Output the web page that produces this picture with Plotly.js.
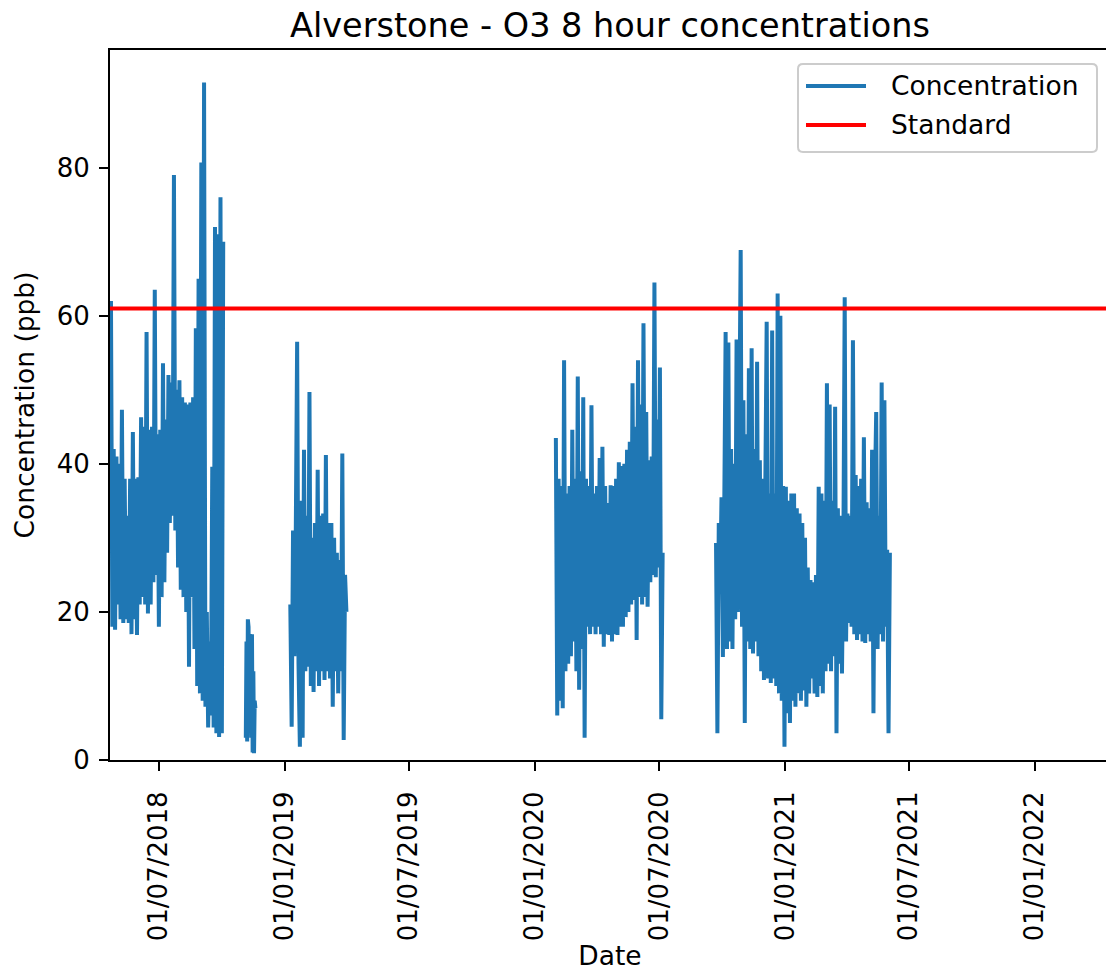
<!DOCTYPE html>
<html>
<head>
<meta charset="utf-8">
<script src="https://cdn.plot.ly/plotly-3.0.1.min.js"></script>
<style>
  html, body { margin: 0; padding: 0; background: #ffffff; overflow: hidden; }
  #chart { width: 1114px; height: 972px; }
</style>
</head>
<body>
<div id="chart"></div>
<script>
// ---- Chart text ----
const chartTitle = 'Alverstone - O3 8 hour concentrations';
const xTitle = 'Date';
const yTitle = 'Concentration (ppb)';
const seriesName = 'Concentration';
const standardName = 'Standard';

// ---- Air quality standard (ppb) ----
const standardValue = 61;

// ---- Measured 8-hour mean O3 (ppb), one block per monitoring period ----
// Each block: first reading (UTC), hours between readings, readings.
const period1Start = '2018-04-22T00:00:00Z';
const period1StepHours = 48;
const period1Values = [
  62, 18, 42, 17.6, 41, 21, 40, 19, 47.3, 18.5,
  38, 19, 33, 18.5, 38, 17, 44.3, 19, 38, 16.9,
  38.2, 21, 46.3, 22, 45, 21, 57.8, 19.8, 44.6, 21,
  45, 24, 63.5, 25, 44, 18, 44.6, 22, 53.6, 24,
  46, 28, 52, 32, 51, 33, 79, 31, 50, 26,
  51.3, 23, 49, 22, 48.3, 20, 48, 12.6, 48.3, 22,
  49, 15, 58.3, 10, 65, 9, 80.7, 8, 91.5, 7.2,
  20, 4.4, 16, 6, 39.6, 4.4, 72, 3.6, 71, 3.1,
  76, 3.6, 70
];

const period2Start = '2018-11-05T00:00:00Z';
const period2StepHours = 24;
const period2Values = [
  3, 16, 2.5, 19, 18, 4, 17, 16, 3, 17,
  1, 12, 0.9, 8, 7
];

const period3Start = '2019-01-09T00:00:00Z';
const period3StepHours = 48;
const period3Values = [
  21, 4.5, 31, 14, 30.6, 56.5, 13, 1.8, 35, 3,
  41.9, 12, 33, 12.6, 49.7, 10, 30, 9.2, 32, 12,
  39.2, 10, 33, 12, 33.3, 10.8, 41.2, 12, 32, 11,
  32, 7.2, 30, 12, 28, 9, 27, 12, 41.4, 2.7,
  25, 20
];

const period4Start = '2020-02-01T00:00:00Z';
const period4StepHours = 48;
const period4Values = [
  43.5, 6, 38, 8, 37, 7, 54, 12, 36, 13,
  37, 14, 44.6, 16, 38, 12, 51.8, 9.5, 39, 15,
  49, 3, 38, 18, 37, 17, 47.9, 18, 36, 17,
  37, 18, 40.8, 17, 42.3, 15.3, 37, 17, 34.7, 16.9,
  37.1, 16, 37, 17, 38, 16.9, 40.2, 18, 39.7, 18,
  40, 19.3, 41.9, 20, 43, 21, 50.9, 21.6, 45, 16.2,
  54, 22, 48, 21, 59, 22, 47, 20.7, 40.5, 24,
  41, 25, 64.5, 24.7, 46, 26, 53, 5.5, 28
];

const period5Start = '2020-09-22T00:00:00Z';
const period5StepHours = 48;
const period5Values = [
  29.3, 3.6, 32, 23, 35.5, 13.9, 34, 57.8, 15, 56.4,
  16, 42, 15, 40, 19, 56.8, 20, 45, 68.9, 18,
  48.6, 5, 44, 16, 52.9, 15, 55.6, 14.4, 42, 16,
  53.8, 14, 40.5, 12, 38, 10.8, 37, 59.2, 11, 36,
  10.4, 58, 11, 36, 10, 63, 9, 60, 8, 37,
  1.8, 36.9, 6.3, 35, 5, 36, 8, 36, 7.2, 34,
  9, 33.3, 8, 32, 9.4, 30, 7.2, 26, 9, 24.3,
  11, 24, 9, 25, 8.5, 36.9, 10, 36, 9, 35,
  12, 50.9, 13, 48, 12, 35, 14, 47.7, 3.6, 34,
  13, 33, 11.7, 28, 62.5, 16, 33.3, 18.5, 33, 18,
  56.7, 17, 38.5, 16.2, 37, 17, 38, 16, 43.6, 15.8,
  34.8, 17, 34, 16, 41.9, 6.3, 36, 47, 15, 33,
  17, 51, 16, 48.6, 18, 28.4, 3.6, 28
];

// ---- Axis ticks ----
const xTickDates = ['2018-07-01', '2019-01-01', '2019-07-01', '2020-01-01',
                    '2020-07-01', '2021-01-01', '2021-07-01', '2022-01-01'];
const xTickLabels = ['01/07/2018', '01/01/2019', '01/07/2019', '01/01/2020',
                     '01/07/2020', '01/01/2021', '01/07/2021', '01/01/2022'];
const yTickValues = [0, 20, 40, 60, 80];
const yTickLabels = ['0', '20', '40', '60', '80'];

// ---- Build the time series; gaps between periods stay empty ----
function fmt(ms) {
  return new Date(ms).toISOString().slice(0, 16).replace('T', ' ');
}
const periods = [
  [period1Start, period1StepHours, period1Values],
  [period2Start, period2StepHours, period2Values],
  [period3Start, period3StepHours, period3Values],
  [period4Start, period4StepHours, period4Values],
  [period5Start, period5StepHours, period5Values]
];
const xs = [], ys = [];
periods.forEach(([start, step, vals], k) => {
  const t0 = Date.parse(start);
  vals.forEach((v, i) => { xs.push(fmt(t0 + i * step * 3600e3)); ys.push(v); });
  if (k < periods.length - 1) {
    // break the line until the next period starts
    xs.push(fmt(t0 + vals.length * step * 3600e3));
    ys.push(null);
  }
});

const blue = '#1f77b4';
const red = '#ff0000';
const font = 'DejaVu Sans, Liberation Sans, sans-serif';

const traces = [{
  type: 'scatter',
  mode: 'lines',
  name: seriesName,
  x: xs,
  y: ys,
  connectgaps: false,
  line: { color: blue, width: 4, simplify: false },
  hoverinfo: 'x+y'
}];

// ---- Legend (drawn in paper coordinates, top-right inside the axes) ----
const lg = { x0: 0.688, x1: 0.987, y0: 0.8563, y1: 0.9803 };
const rx = 0.005, ry = 0.007;
const framePath =
  `M ${lg.x0 + rx},${lg.y0} L ${lg.x1 - rx},${lg.y0} Q ${lg.x1},${lg.y0} ${lg.x1},${lg.y0 + ry} ` +
  `L ${lg.x1},${lg.y1 - ry} Q ${lg.x1},${lg.y1} ${lg.x1 - rx},${lg.y1} ` +
  `L ${lg.x0 + rx},${lg.y1} Q ${lg.x0},${lg.y1} ${lg.x0},${lg.y1 - ry} ` +
  `L ${lg.x0},${lg.y0 + ry} Q ${lg.x0},${lg.y0} ${lg.x0 + rx},${lg.y0} Z`;
const legendEntries = [
  { label: seriesName, color: blue, y: 0.9493 },
  { label: standardName, color: red, y: 0.8944 }
];

const shapes = [
  // the standard, across the full width of the axes
  { type: 'line', xref: 'paper', yref: 'y', x0: 0, x1: 1,
    y0: standardValue, y1: standardValue,
    line: { color: red, width: 4 }, layer: 'above' },
  { type: 'path', xref: 'paper', yref: 'paper', path: framePath,
    fillcolor: 'rgba(255,255,255,0.8)', line: { color: '#cccccc', width: 2 }, layer: 'above' }
];
const annotations = [];
legendEntries.forEach(e => {
  shapes.push({ type: 'line', xref: 'paper', yref: 'paper',
    x0: 0.696, x1: 0.756, y0: e.y, y1: e.y,
    line: { color: e.color, width: 4 }, layer: 'above' });
  annotations.push({ xref: 'paper', yref: 'paper', x: 0.779, y: e.y,
    xanchor: 'left', yanchor: 'middle', showarrow: false, text: e.label,
    font: { family: font, size: 26.5, color: '#000000' } });
});

const layout = {
  width: 1114,
  height: 972,
  margin: { l: 110, r: 4, t: 50, b: 212 },
  paper_bgcolor: '#ffffff',
  plot_bgcolor: '#ffffff',
  showlegend: false,
  font: { family: font, size: 26, color: '#000000' },
  title: {
    text: chartTitle,
    font: { family: font, size: 33.5, color: '#000000' },
    x: 0.5, xref: 'paper', xanchor: 'center',
    y: 1 - 25 / 972, yref: 'container', yanchor: 'middle'
  },
  xaxis: {
    type: 'date',
    range: ['2018-04-20 14:00', '2022-04-20 14:00'],
    tickmode: 'array',
    tickvals: xTickDates,
    ticktext: xTickLabels,
    tickangle: -90,
    ticks: 'outside', ticklen: 9, tickwidth: 2, tickcolor: '#000000',
    ticklabelstandoff: 10,
    showline: true, linewidth: 2, linecolor: '#000000', mirror: true,
    showgrid: false, zeroline: false,
    tickfont: { family: font, size: 26, color: '#000000' },
    title: { text: xTitle, standoff: 6, font: { family: font, size: 26.5, color: '#000000' } }
  },
  yaxis: {
    range: [0, 95.9],
    tickmode: 'array',
    tickvals: yTickValues,
    ticktext: yTickLabels,
    ticks: 'outside', ticklen: 9, tickwidth: 2, tickcolor: '#000000',
    ticklabelstandoff: 4,
    showline: true, linewidth: 2, linecolor: '#000000', mirror: true,
    showgrid: false, zeroline: false,
    tickfont: { family: font, size: 26, color: '#000000' },
    title: { text: yTitle, standoff: 14, font: { family: font, size: 26.5, color: '#000000' } }
  },
  shapes: shapes,
  annotations: annotations
};

Plotly.newPlot('chart', traces, layout, { displayModeBar: false, staticPlot: true });
</script>
</body>
</html>
